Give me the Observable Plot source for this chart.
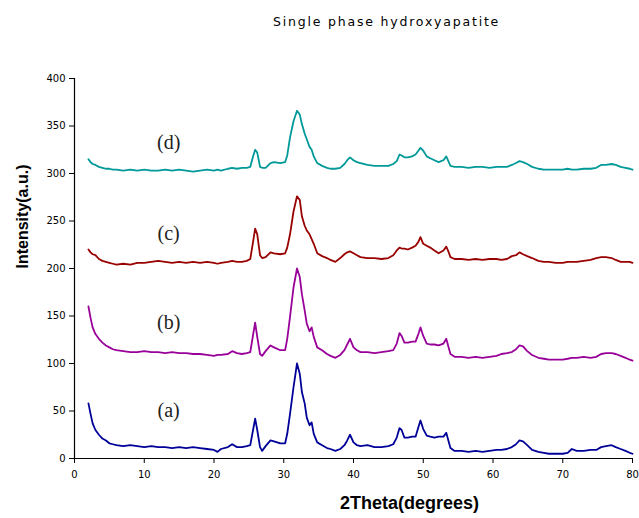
<!DOCTYPE html>
<html>
<head>
<meta charset="utf-8">
<script src="https://cdn.jsdelivr.net/npm/d3@7"></script>
<script src="https://cdn.jsdelivr.net/npm/@observablehq/plot@0.6"></script>
<style>
  html, body { margin: 0; padding: 0; background: #fff; }
  #title { height: 50px; box-sizing: border-box; padding-top: 14px; padding-left: 273px;
           font-family: "DejaVu Sans", sans-serif; font-size: 12.5px; line-height: 16px;
           letter-spacing: 1.8px; color: #000; }
  #chart svg { display: block; }
</style>
</head>
<body>
<div id="title">Single phase hydroxyapatite</div>
<div id="chart"></div>
<script>
const titleText = "Single phase hydroxyapatite";
const xLabel = "2Theta(degrees)";
const yLabel = "Intensity(a.u.)";
const xTicks = [0, 10, 20, 30, 40, 50, 60, 70, 80];
const yTicks = [0, 50, 100, 150, 200, 250, 300, 350, 400];

const seriesNames = ["(a)", "(b)", "(c)", "(d)"];
const seriesColors = ["#000099", "#990099", "#990000", "#009999"];
const labelX = [13.5, 13.5, 13.5, 13.5];
const labelY = [50, 143, 237, 333];

const theta = [2, 2.3, 2.6, 3, 3.5, 4, 4.5, 5, 5.5, 6, 7, 8, 9, 10, 11, 12, 13, 14, 15, 16, 17, 18, 19, 20, 20.5, 21, 22, 22.6, 23.3, 24, 24.7, 25.2, 25.6, 25.9, 26.2, 26.6, 26.9, 27.4, 28.1, 28.6, 29.5, 30.2, 30.5, 30.9, 31.4, 31.9, 32.3, 32.6, 33.0, 33.3, 33.7, 34.0, 34.3, 34.8, 35.5, 36.2, 36.7, 37.4, 38.1, 38.7, 39.1, 39.5, 40.0, 40.5, 41.0, 42.0, 43.0, 44.0, 45.0, 45.7, 46.2, 46.6, 46.9, 47.3, 47.8, 48.4, 48.9, 49.3, 49.6, 50.0, 50.5, 51.0, 51.6, 52.2, 52.9, 53.3, 53.6, 53.9, 54.5, 55.5, 56.5, 57.5, 58.5, 59.5, 60.5, 61.2, 62.0, 62.7, 63.3, 63.8, 64.3, 64.9, 65.6, 66.5, 67.3, 68.0, 69.0, 70.0, 70.7, 71.3, 72.0, 73.0, 74.0, 74.8, 75.5, 76.2, 77.0, 77.6, 78.3, 79.0, 79.6, 80.0];

const seriesA = [58, 47, 37, 30, 25, 21, 19, 16, 15, 14, 13, 14, 13, 12, 13, 12, 12, 11, 12, 11, 12, 11, 10, 9, 7, 10, 12, 15, 12, 12, 13, 14, 30, 42, 30, 12, 8, 13, 19, 18, 16, 16, 26, 47, 75, 100, 89, 70, 58, 43, 35, 38, 26, 17, 14, 11, 10, 8, 10, 14, 19, 25, 17, 14, 13, 14, 12, 12, 13, 15, 22, 32, 30, 22, 22, 23, 23, 33, 40, 31, 24, 23, 22, 23, 23, 27, 19, 11, 8, 8, 7, 8, 7, 8, 9, 9, 10, 12, 15, 19, 18, 14, 9, 7, 6, 5, 5, 5, 6, 10, 8, 8, 9, 9, 12, 13, 14, 12, 10, 8, 6, 5];

const seriesB = [160, 148, 138, 131, 126, 122, 119, 117, 115, 114, 113, 112, 112, 113, 112, 112, 111, 112, 111, 111, 110, 110, 109, 108, 109, 109, 110, 113, 111, 110, 111, 112, 130, 143, 128, 110, 108, 113, 119, 117, 114, 114, 126, 149, 180, 200, 191, 173, 156, 142, 134, 138, 128, 117, 114, 110, 108, 106, 109, 114, 120, 126, 117, 114, 112, 112, 111, 112, 113, 114, 121, 132, 129, 122, 122, 123, 123, 131, 138, 129, 121, 120, 120, 119, 121, 126, 118, 110, 107, 107, 106, 107, 106, 107, 108, 110, 111, 112, 115, 119, 118, 113, 109, 106, 105, 104, 104, 104, 105, 106, 106, 107, 106, 107, 110, 111, 111, 110, 108, 106, 104, 103];

const seriesC = [220, 217, 215, 214, 210, 208, 207, 206, 205, 204, 205, 204, 206, 206, 207, 208, 207, 206, 207, 206, 207, 206, 207, 206, 205, 206, 207, 208, 207, 207, 208, 210, 228, 242, 236, 214, 211, 212, 217, 216, 215, 216, 222, 236, 260, 276, 272, 255, 245, 240, 236, 231, 226, 216, 213, 211, 209, 207, 211, 215, 217, 218, 216, 214, 212, 211, 211, 210, 211, 214, 219, 222, 221, 221, 220, 222, 224, 228, 233, 226, 224, 222, 219, 216, 219, 223, 218, 212, 210, 210, 209, 210, 209, 210, 210, 209, 210, 213, 214, 217, 215, 213, 211, 208, 207, 207, 206, 206, 207, 207, 207, 208, 209, 211, 212, 212, 211, 209, 207, 207, 207, 206];

const seriesD = [315, 312, 310, 309, 307, 306, 305, 305, 304, 304, 303, 304, 303, 304, 303, 303, 304, 303, 304, 303, 302, 303, 304, 303, 304, 303, 305, 306, 305, 306, 306, 307, 318, 325, 322, 307, 306, 306, 311, 312, 311, 312, 319, 338, 355, 366, 362, 352, 342, 336, 328, 325, 318, 311, 308, 306, 305, 305, 306, 310, 314, 317, 314, 312, 311, 309, 308, 308, 308, 310, 313, 320, 319, 317, 317, 318, 320, 324, 327, 324, 318, 316, 314, 312, 314, 318, 313, 308, 307, 307, 306, 307, 307, 306, 307, 307, 307, 309, 311, 313, 312, 310, 307, 305, 304, 304, 304, 304, 305, 304, 304, 305, 305, 306, 309, 309, 310, 309, 307, 306, 305, 304];

const allSeries = [seriesA, seriesB, seriesC, seriesD];
const rows = [];
allSeries.forEach((vals, i) => {
  theta.forEach((t, j) => rows.push({theta: t, intensity: vals[j], series: seriesNames[i]}));
});
const labels = seriesNames.map((name, i) => ({name, x: labelX[i], y: labelY[i]}));

const chart = Plot.plot({
  width: 639,
  height: 468,
  marginTop: 28,
  marginRight: 7,
  marginBottom: 60,
  marginLeft: 74,
  style: {fontFamily: "DejaVu Sans, sans-serif", fontSize: "10px", color: "#000", background: "#fff"},
  x: {domain: [0, 80]},
  y: {domain: [0, 400]},
  color: {domain: seriesNames, range: seriesColors},
  marks: [
    Plot.axisX(xTicks, {tickSize: 5, tickPadding: 7, label: null, fontSize: 10}),
    Plot.axisY(yTicks, {tickSize: 5, tickPadding: 4, label: null, fontSize: 10}),
    Plot.ruleX([0], {stroke: "#000", strokeWidth: 1.2}),
    Plot.ruleY([0], {stroke: "#000", strokeWidth: 1.2}),
    Plot.line(rows, {x: "theta", y: "intensity", z: "series", stroke: "series", strokeWidth: 1.8}),
    Plot.text(labels, {x: "x", y: "y", text: "name", fontFamily: "Liberation Serif, serif", fontSize: 20, fill: "#222"}),
    Plot.text([xLabel], {frameAnchor: "bottom", dx: 56, dy: 50, fontWeight: "bold", fontSize: 18, fontFamily: "Liberation Sans, Arial, sans-serif"}),
    Plot.text([yLabel], {frameAnchor: "left", dx: -52, rotate: -90, fontWeight: "bold", fontSize: 16, fontFamily: "Liberation Sans, Arial, sans-serif"})
  ]
});
document.getElementById("chart").appendChild(chart);
</script>
</body>
</html>
